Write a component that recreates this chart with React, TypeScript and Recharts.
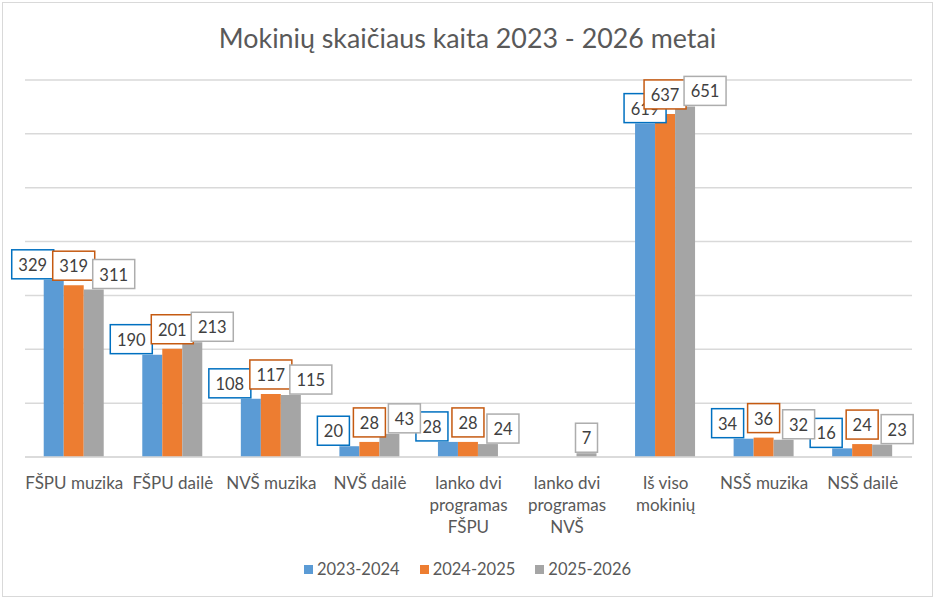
import React from "react"
import { BarChart, Bar, XAxis, YAxis, CartesianGrid, LabelList } from "recharts"

const categories = [
  "FŠPU muzika",
  "FŠPU dailė",
  "NVŠ muzika",
  "NVŠ dailė",
  "lanko dvi programas FŠPU",
  "lanko dvi programas NVŠ",
  "Iš viso mokinių",
  "NSŠ muzika",
  "NSŠ dailė",
]
const y2023 = [329, 190, 108, 20, 28, null, 619, 34, 16]
const y2024 = [319, 201, 117, 28, 28, null, 637, 36, 24]
const y2025 = [311, 213, 115, 43, 24, 7, 651, 32, 23]
const yTicks = [0, 100, 200, 300, 400, 500, 600, 700]

// side: -1 push label left, 0 centered, 1 push right
const series = [
  { key: "2023-2024", fill: "#5B9BD5", border: "#0070C0", side: -1, lift: 1 },
  { key: "2024-2025", fill: "#ED7D31", border: "#C55A11", side: 0, lift: 5 },
  { key: "2025-2026", fill: "#A5A5A5", border: "#ADADAD", side: 1, lift: 1 },
]

const FONT = 'Lato, "Noto Sans", sans-serif'
const TEXT = "#595959"

const chartData = categories.map((name, i) => ({
  name,
  "2023-2024": y2023[i],
  "2024-2025": y2024[i],
  "2025-2026": y2025[i],
}))

// break tick text into lines of at most 11 chars
function wrap(text: string) {
  const lines: string[] = []
  let cur = ""
  for (const w of text.split(" ")) {
    if (cur && (cur + " " + w).length > 11) {
      lines.push(cur)
      cur = w
    } else {
      cur = cur ? cur + " " + w : w
    }
  }
  if (cur) lines.push(cur)
  return lines
}

function CategoryTick(props: any) {
  const { x, y, payload } = props
  const lines = wrap(payload.value)
  return (
    <text x={x} y={y} textAnchor="middle" fill={TEXT} fontSize={17} fontFamily={FONT}>
      {lines.map((l, i) => (
        <tspan key={i} x={x} dy={i === 0 ? 24 : 22}>
          {l}
        </tspan>
      ))}
    </text>
  )
}

function boxLabel(stroke: string, side: number, lift: number) {
  return (props: any) => {
    const { x, y, width, value, index } = props
    if (value == null) return null
    const digits = String(value).length
    const w = digits * 10 + 12
    const h = 29
    // a lone bar in its group keeps its label centred
    const alone = y2023[index] == null && y2024[index] == null
    let shift = 0
    if (!alone && side < 0) shift = -(w / 2)
    if (!alone && side > 0) shift = w / 2 - 1
    const cx = x + width / 2 + shift
    const bottom = y - lift
    return (
      <g>
        <rect x={cx - w / 2} y={bottom - h} width={w} height={h} fill="#fff" stroke={stroke} strokeWidth={1.5} />
        <text x={cx} y={bottom - 8} textAnchor="middle" fill="#404040" fontSize={16.5} fontFamily={FONT}>
          {value}
        </text>
      </g>
    )
  }
}

export default function App() {
  return (
    <div
      style={{
        position: "absolute",
        left: 0,
        top: 0,
        width: 935,
        height: 600,
        background: "#fff",
        fontFamily: FONT,
      }}
    >
      <div
        style={{
          position: "absolute",
          left: 2,
          top: 2,
          width: 929,
          height: 593,
          border: "1px solid #D9D9D9",
        }}
      />
      <div
        style={{
          position: "absolute",
          top: 22,
          width: 935,
          textAlign: "center",
          fontSize: 26.8,
          color: TEXT,
        }}
      >
        Mokinių skaičiaus kaita 2023 - 2026 metai
      </div>
      <BarChart
        width={935}
        height={600}
        data={chartData}
        margin={{ top: 80, right: 23, bottom: 113, left: 25 }}
        barCategoryGap="19%"
        barGap={0}
        style={{ position: "absolute", left: 0, top: 0, overflow: "visible" }}
      >
        <CartesianGrid vertical={false} stroke="#D9D9D9" strokeWidth={1.5} />
        <XAxis
          dataKey="name"
          height={30}
          tick={<CategoryTick />}
          tickLine={false}
          axisLine={{ stroke: "#D9D9D9", strokeWidth: 1.5 }}
          interval={0}
        />
        <YAxis hide width={0} domain={[0, 700]} ticks={yTicks} />
        {series.map((s) => (
          <Bar key={s.key} dataKey={s.key} fill={s.fill} isAnimationActive={false}>
            <LabelList dataKey={s.key} content={boxLabel(s.border, s.side, s.lift)} />
          </Bar>
        ))}
      </BarChart>
      <div
        style={{
          position: "absolute",
          top: 559,
          width: 935,
          display: "flex",
          justifyContent: "center",
          gap: 20,
          fontSize: 16.5,
          color: TEXT,
        }}
      >
        {series.map((s) => (
          <div key={s.key} style={{ display: "flex", alignItems: "center", gap: 4 }}>
            <span style={{ width: 9, height: 9, background: s.fill, display: "inline-block" }} />
            <span>{s.key}</span>
          </div>
        ))}
      </div>
    </div>
  )
}
